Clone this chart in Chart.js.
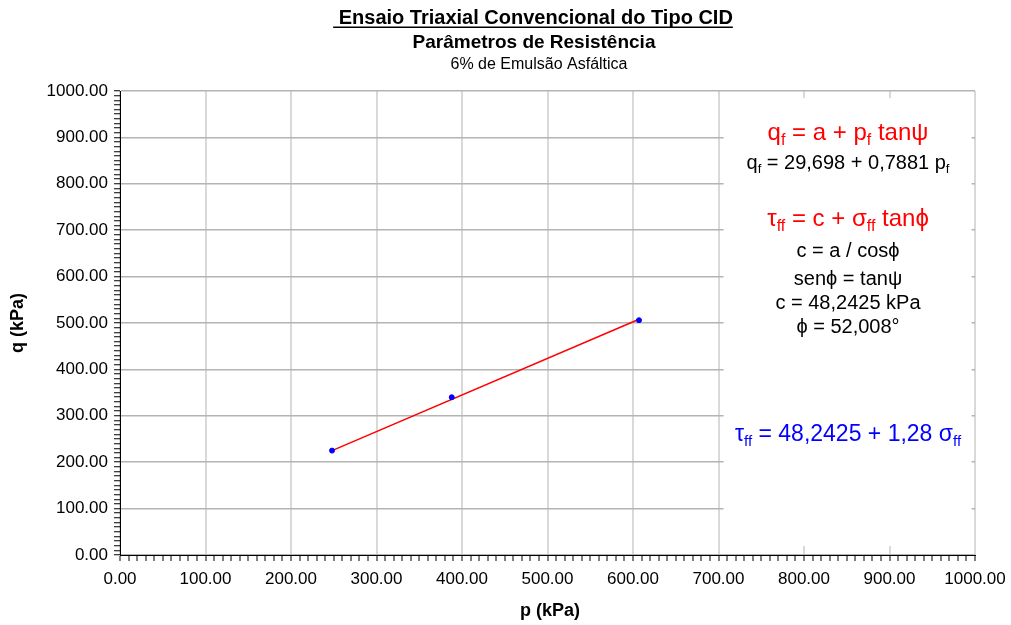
<!DOCTYPE html>
<html>
<head>
<meta charset="utf-8">
<script src="https://cdn.jsdelivr.net/npm/chart.js@4"></script>
<style>
  body { margin: 0; background: #fff; }
</style>
</head>
<body>
<canvas id="triaxChart" width="1011" height="625"></canvas>
<script>
// ensaio CID - pontos p x q
const pValues = [248, 388, 607];
const qValues = [225, 340, 506];
// reta de ajuste (extremos)
const trendP = [248, 607];
const trendQ = [225, 508];

const axisMin = 0;
const axisMax = 1000;
const majorStep = 100;
const minorStep = 10;

const titleLines = [" Ensaio Triaxial Convencional do Tipo CID", "Parâmetros de Resistência", "6% de Emulsão Asfáltica"];
const xTitle = "p (kPa)";
const yTitle = "q (kPa)";

// textos da caixa: [texto, subscrito]
const eqRed1 = [["q", 0], ["f", 1], [" = a + p", 0], ["f", 1], [" tanψ", 0]];
const eqBlack1 = [["q", 0], ["f", 1], [" = 29,698 + 0,7881 p", 0], ["f", 1]];
const eqRed2 = [["τ", 0], ["ff", 1], [" = c + σ", 0], ["ff", 1], [" tanϕ", 0]];
const eqBlackLines = ["c = a / cosϕ", "senϕ = tanψ", "c = 48,2425 kPa", "ϕ = 52,008°"];
const eqBlue = [["τ", 0], ["ff", 1], [" = 48,2425 + 1,28 σ", 0], ["ff", 1]];

const FONT = '"Liberation Sans", Arial, sans-serif';

function drawRich(ctx, parts, cx, y, size, color) {
  const main = size + 'px ' + FONT;
  const sub = Math.round(size * 0.65) + 'px ' + FONT;
  let w = 0;
  parts.forEach(p => { ctx.font = p[1] ? sub : main; w += ctx.measureText(p[0]).width; });
  let x = cx - w / 2;
  ctx.fillStyle = color;
  ctx.textAlign = 'left';
  ctx.textBaseline = 'alphabetic';
  parts.forEach(p => {
    ctx.font = p[1] ? sub : main;
    ctx.fillText(p[0], x, y + (p[1] ? size * 0.2 : 0));
    x += ctx.measureText(p[0]).width;
  });
}

function isMajor(v) {
  return Math.round(v) % majorStep === 0;
}

// caixa branca com as equações
const textBoxPlugin = {
  id: 'textBox',
  beforeDatasetsDraw(chart) {
    const { ctx, scales: { x, y } } = chart;
    const l = x.getPixelForValue(706), r = x.getPixelForValue(996);
    const t = y.getPixelForValue(985), b = y.getPixelForValue(19.5);
    ctx.save();
    ctx.fillStyle = '#fff';
    ctx.fillRect(l, t, r - l, b - t);
    ctx.restore();
  },
  afterDraw(chart) {
    const ctx = chart.ctx;
    ctx.save();
    // títulos
    ctx.fillStyle = '#000';
    ctx.textAlign = 'center';
    ctx.textBaseline = 'alphabetic';
    ctx.font = 'bold 20px ' + FONT;
    ctx.fillText(titleLines[0], 533, 24);
    const tw = ctx.measureText(titleLines[0]).width;
    ctx.fillRect(533 - tw / 2, 26.5, tw, 1.5);
    ctx.font = 'bold 19px ' + FONT;
    ctx.fillText(titleLines[1], 534, 48);
    ctx.font = '16px ' + FONT;
    ctx.fillText(titleLines[2], 539, 69);

    // títulos dos eixos
    ctx.font = 'bold 18px ' + FONT;
    ctx.textBaseline = 'middle';
    ctx.fillText(xTitle, 550, 611);
    ctx.translate(18, 323);
    ctx.rotate(-Math.PI / 2);
    ctx.fillText(yTitle, 0, 0);
    ctx.restore();

    ctx.save();
    drawRich(ctx, eqRed1, 848, 140, 24, '#ff0000');
    drawRich(ctx, eqBlack1, 848, 169, 20, '#000');
    drawRich(ctx, eqRed2, 848, 226, 24, '#ff0000');
    const ys = [257, 285, 309, 333];
    eqBlackLines.forEach((s, i) => drawRich(ctx, [[s, 0]], 848, ys[i], 20, '#000'));
    drawRich(ctx, eqBlue, 848, 441, 23, '#0000ff');
    ctx.restore();
  }
};

document.addEventListener("DOMContentLoaded", () => {
  const canvas = document.getElementById('triaxChart');

  const points = pValues.map((p, i) => ({ x: p, y: qValues[i] }));
  const trend = trendP.map((p, i) => ({ x: p, y: trendQ[i] }));

  const tickFont = { family: FONT, size: 17 };

  function scaleOptions(gridColor, gridWidth, pad, fitFn) {
    return {
      type: 'linear',
      min: axisMin,
      max: axisMax,
      afterFit: fitFn,
      ticks: {
        stepSize: minorStep,
        autoSkip: false,
        maxRotation: 0,
        color: '#000',
        font: tickFont,
        padding: pad,
        callback: v => isMajor(v) ? v.toFixed(2) : ''
      },
      grid: {
        color: c => isMajor(c.tick.value) ? gridColor : 'rgba(0,0,0,0)',
        lineWidth: gridWidth,
        tickColor: '#000',
        tickWidth: 1,
        tickLength: 6
      },
      border: { color: '#000', width: 1 }
    };
  }

  new Chart(canvas, {
    type: 'scatter',
    data: {
      datasets: [
        {
          data: points,
          backgroundColor: '#0000ff',
          borderColor: '#0000ff',
          pointRadius: 2.5,
          pointHoverRadius: 2.5
        },
        {
          type: 'line',
          data: trend,
          borderColor: '#ff0000',
          borderWidth: 1.5,
          pointRadius: 0,
          fill: false,
          tension: 0
        }
      ]
    },
    options: {
      responsive: false,
      animation: false,
      events: [],
      layout: { padding: { top: 91, right: 36, left: 0, bottom: 0 } },
      plugins: {
        legend: { display: false },
        tooltip: { enabled: false }
      },
      scales: {
        x: scaleOptions('#d9d9d9', 2, 8, s => {
          s.height = 70;
          s.paddingLeft = 0;
          s.paddingRight = 0;
        }),
        y: scaleOptions('#b4b4b4', 1.5, 6, s => {
          s.width = 120;
          s.paddingTop = 0;
          s.paddingBottom = 0;
        })
      }
    },
    plugins: [textBoxPlugin]
  });
});
</script>
</body>
</html>
